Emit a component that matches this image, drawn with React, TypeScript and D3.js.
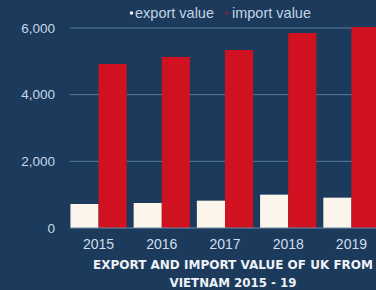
import React from "react";
import * as d3 from "d3";

const years = ["2015", "2016", "2017", "2018", "2019"];
const exportValues = [720, 750, 820, 1000, 910];
const importValues = [4920, 5130, 5340, 5850, 6030];
const yTicks = [0, 2000, 4000, 6000];
const seriesNames = ["export value", "import value"];
const seriesColors = ["#fbf5ec", "#d0111f"];

export default function App() {
    const width = 376;
    const height = 290;

    const x = d3.scaleBand<string>().domain(years).range([66, 384]).paddingInner(0.11).paddingOuter(0.07);
    const xSub = d3.scaleBand<string>().domain(seriesNames).range([0, x.bandwidth()]);
    const y = d3.scaleLinear().domain([0, 6000]).range([228, 28]);
    const fmt = d3.format(",");

    const series = [exportValues, importValues];
    const font = "Liberation Sans, Arial, sans-serif";

    return (
        <div style={{ position: "fixed", left: 0, top: 0, width, height, overflow: "hidden" }}>
            <svg width={width} height={height} style={{ display: "block", background: "#1b3a5c" }}>
                {yTicks.map((t) => (
                    <g key={t}>
                        {t > 0 && (
                            <line x1={70} x2={width} y1={y(t)} y2={y(t)} stroke="#5d7c9c" strokeWidth={1} />
                        )}
                        <text
                            x={55}
                            y={y(t)}
                            dy="0.35em"
                            textAnchor="end"
                            fontFamily={font}
                            fontSize={13.5}
                            fill="#c9d7e8"
                        >
                            {fmt(t)}
                        </text>
                    </g>
                ))}
                {years.map((yr, i) => (
                    <g key={yr} transform={`translate(${x(yr)},0)`}>
                        {series.map((vals, s) => (
                            <rect
                                key={s}
                                x={xSub(seriesNames[s])}
                                y={y(vals[i])}
                                width={xSub.bandwidth()}
                                height={y(0) - y(vals[i])}
                                fill={seriesColors[s]}
                            />
                        ))}
                        <text
                            x={x.bandwidth() / 2}
                            y={244}
                            dy="0.35em"
                            textAnchor="middle"
                            fontFamily={font}
                            fontSize={14}
                            fill="#d3deeb"
                        >
                            {yr}
                        </text>
                    </g>
                ))}
                <line x1={70} x2={width} y1={y(0)} y2={y(0)} stroke="#6d8aa8" strokeWidth={1} />
                <g fontFamily={font} fontSize={14.5} fill="#c4d2e3">
                    <circle cx={131.5} cy={13} r={1.7} fill={seriesColors[0]} />
                    <text x={135} y={13} dy="0.35em">{seriesNames[0]}</text>
                    <circle cx={227} cy={13} r={1.7} fill={seriesColors[1]} opacity={0.6} />
                    <text x={232} y={13} dy="0.35em">{seriesNames[1]}</text>
                </g>
                <g
                    fontFamily="DejaVu Sans, sans-serif"
                    fontWeight={900}
                    fontSize={12}
                    fill="#eef2f7"
                    textAnchor="middle"
                >
                    <text x={233} y={265} dy="0.35em" textLength={280} lengthAdjust="spacingAndGlyphs">
                        EXPORT AND IMPORT VALUE OF UK FROM
                    </text>
                    <text x={233} y={283} dy="0.35em" textLength={127} lengthAdjust="spacingAndGlyphs">
                        VIETNAM 2015 - 19
                    </text>
                </g>
            </svg>
        </div>
    );
}
